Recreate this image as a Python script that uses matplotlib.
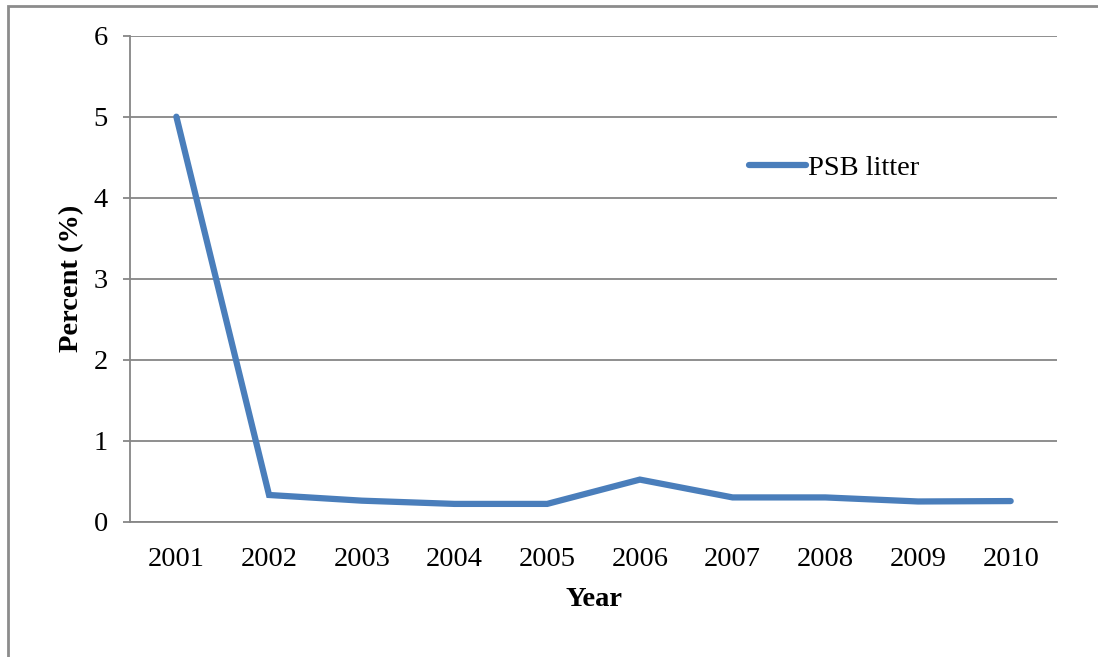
import matplotlib.pyplot as plt
from matplotlib.patches import Rectangle

years = ['2001', '2002', '2003', '2004', '2005', '2006', '2007', '2008', '2009', '2010']
psb_litter = [5.0, 0.33, 0.26, 0.22, 0.22, 0.52, 0.30, 0.30, 0.25, 0.255]

plt.rcParams['font.family'] = ['Liberation Serif', 'DejaVu Serif']

fig = plt.figure(figsize=(10.98, 6.57), dpi=100)
ax = fig.add_axes([0.1184, 0.2059, 0.8443, 0.7398])

# outer chart frame, only the left and top edges fall inside the image
fig.patches.append(Rectangle((8 / 1098, -0.1), 1.2, 1 - 6 / 657 + 0.1,
                             transform=fig.transFigure, fill=False,
                             edgecolor='#8c8c8c', linewidth=2))

x = range(len(years))
ax.plot(x, psb_litter, color='#4a7ebb', linewidth=4.5, solid_capstyle='round',
        solid_joinstyle='miter', label='PSB litter')

ax.set_xlim(-0.5, len(years) - 0.5)
ax.set_ylim(0, 6)
ax.set_xticks(list(x))
ax.set_xticklabels(years)
ax.set_yticks(range(0, 7))

ax.grid(axis='y', color='#868686', linewidth=1.3)
ax.set_axisbelow(True)
for side in ['top', 'right']:
    ax.spines[side].set_visible(False)
for side in ['left', 'bottom']:
    ax.spines[side].set_color('#868686')
    ax.spines[side].set_linewidth(1.3)

ax.tick_params(axis='y', length=5, width=1.3, color='#868686', pad=11, labelsize=20.5)
ax.tick_params(axis='x', length=0, pad=18, labelsize=20.5)

ax.set_xlabel('Year', fontsize=20.5, fontweight='bold', labelpad=11)
ax.set_ylabel('Percent (%)', fontsize=20.5, fontweight='bold', labelpad=7)

ax.legend(loc='center left', bbox_to_anchor=(0.668, 0.728), frameon=False,
          fontsize=20.5, handlelength=2.0, handletextpad=0.05,
          borderpad=0, borderaxespad=0)

fig.savefig('out.png', dpi=100)
